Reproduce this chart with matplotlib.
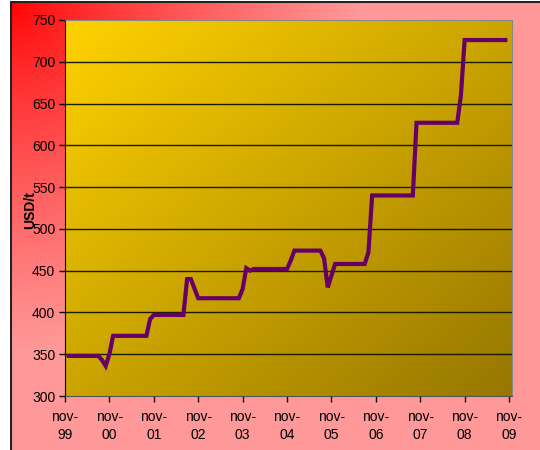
import numpy as np
import matplotlib
matplotlib.use("Agg")
import matplotlib.pyplot as plt
from matplotlib.lines import Line2D

plt.rcParams['font.family'] = ['Liberation Sans', 'DejaVu Sans']

# months counted from nov-99, price in USD/t
months = [1, 9, 10, 11, 12, 13, 22, 23, 24, 32, 33, 34, 36, 47, 48, 49, 50, 51,
          60, 61, 62, 69, 70, 71, 73, 81, 82, 83, 94, 95, 106, 107, 108, 119]
price = [348, 348, 343, 336, 350, 372, 372, 392, 397, 397, 440, 440, 417, 417,
         428, 453, 450, 452, 452, 462, 474, 474, 465, 430, 458, 458, 472, 540,
         540, 627, 627, 660, 726, 726]
tick_months = [0, 12, 24, 36, 48, 60, 72, 84, 96, 108, 120]
tick_labels = ["nov-\n99", "nov-\n00", "nov-\n01", "nov-\n02", "nov-\n03", "nov-\n04",
               "nov-\n05", "nov-\n06", "nov-\n07", "nov-\n08", "nov-\n09"]
y_ticks = [300, 350, 400, 450, 500, 550, 600, 650, 700, 750]

W, H = 540, 450
fig = plt.figure(figsize=(W / 100, H / 100), dpi=100)
fig.patch.set_facecolor("white")

# outer background: red corner fading to pink
bg = fig.add_axes([10 / W, 0, (W - 10) / W, (H - 1) / H])
bw, bh = W - 10, H - 1
yy, xx = np.mgrid[0:bh, 0:bw]
d = np.sqrt(xx ** 2 + yy ** 2)
t = np.clip(d / 350, 0, 1) ** 0.8
red = np.array([255, 0, 0]) / 255
pink = np.array([255, 153, 153]) / 255
img = red[None, None, :] + (pink - red)[None, None, :] * t[..., None]
bg.imshow(img, extent=[0, 1, 0, 1], aspect="auto", origin="upper")
bg.set_xlim(0, 1)
bg.set_ylim(0, 1)
bg.axis("off")
bg.add_line(Line2D([0.001, 0.001], [0, 1], color="#222222", lw=1.5))
bg.add_line(Line2D([0, 1], [0.998, 0.998], color="#222222", lw=1.5))

# plot area
L, R, T, B = 65, 512, 20, 396
ax = fig.add_axes([L / W, (H - B) / H, (R - L) / W, (B - T) / H])
pw, ph = R - L, B - T
yy, xx = np.mgrid[0:ph, 0:pw]
s = (xx / pw + yy / ph) / 2
c0 = np.array([255, 210, 0]) / 255
c1 = np.array([150, 118, 0]) / 255
pimg = c0[None, None, :] + (c1 - c0)[None, None, :] * s[..., None]
ax.imshow(pimg, extent=[0, 1, 0, 1], transform=ax.transAxes, aspect="auto",
          origin="upper", zorder=0)

ax.set_xlim(0, 120.8)
ax.set_ylim(300, 750)
for v in y_ticks[1:-1]:
    ax.axhline(v, color="#1a1a00", lw=1, zorder=1)

ax.plot(months, price, color="#660066", lw=3, solid_joinstyle="miter", zorder=3)

ax.set_yticks(y_ticks)
ax.set_xticks(tick_months)
ax.set_xticklabels(tick_labels, linespacing=1.35)
ax.tick_params(axis="both", direction="out", length=4, width=1, colors="black",
               labelsize=10)
ax.tick_params(axis="x", pad=6)
ax.tick_params(axis="y", pad=3)
ax.spines["left"].set_color("black")
ax.spines["bottom"].set_color("#555555")
ax.spines["top"].set_color("#888888")
ax.spines["right"].set_color("#888888")

fig.text(30 / W, 1 - 210 / H, "USD/t", rotation=90, fontweight="bold",
         fontsize=10, ha="center", va="center")

fig.savefig("out.png", dpi=100)
